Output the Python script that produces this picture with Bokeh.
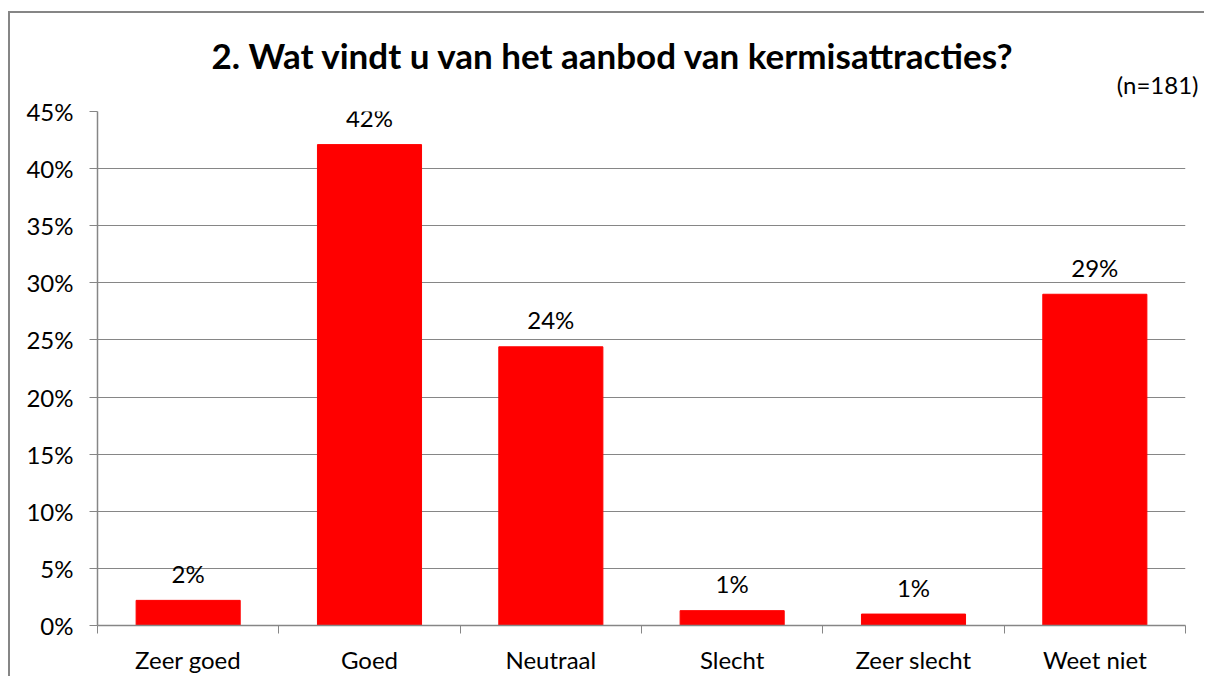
from bokeh.plotting import figure
from bokeh.models import (ColumnDataSource, Range1d, FactorRange, LinearAxis,
                          CategoricalAxis, FixedTicker, NumeralTickFormatter, LabelSet, Title)
from bokeh.core.properties import value
from bokeh.embed import file_html
from bokeh.resources import INLINE

# ---- data ----
categories = ["Zeer goed", "Goed", "Neutraal", "Slecht", "Zeer slecht", "Weet niet"]
percent_values = [2.2, 42.1, 24.4, 1.3, 1.0, 29.0]
value_labels = ["2%", "42%", "24%", "1%", "1%", "29%"]
y_ticks = [0.0, 0.05, 0.10, 0.15, 0.20, 0.25, 0.30, 0.35, 0.40, 0.45]
title_text = "2. Wat vindt u van het aanbod van kermisattracties?"
n_text = "(n=181)"

FONT = "Lato"
GRAY = "#868686"
BAR = "#FF0000"
FS = "24px"

source = ColumnDataSource(dict(cat=categories,
                               share=[v / 100 for v in percent_values],
                               lab=value_labels))

p = figure(width=1196, height=665, output_backend="svg", toolbar_location=None,
           x_range=FactorRange(*categories, range_padding=0),
           y_range=Range1d(0, y_ticks[-1]),
           x_axis_location=None,
           min_border_left=87, min_border_right=21, min_border_top=98, min_border_bottom=53,
           styles={"border-left": "2px solid " + GRAY, "border-top": "2px solid " + GRAY,
                   "border-right": "none", "border-bottom": "none",
                   "margin-top": "11px", "margin-left": "8px"})
p.outline_line_color = None
p.background_fill_color = "white"
p.border_fill_color = "white"

# bars
p.vbar(x="cat", top="share", width=0.574, source=source, fill_color=BAR, line_color=BAR)

# y axis
yax = p.yaxis[0]
yax.ticker = FixedTicker(ticks=y_ticks)
yax.formatter = NumeralTickFormatter(format="0%")
yax.axis_line_color = GRAY
yax.axis_line_width = 1.5
yax.major_tick_line_color = GRAY
yax.major_tick_in = 0
yax.major_tick_out = 8
yax.minor_tick_line_color = None
yax.major_label_text_font = FONT
yax.major_label_text_font_size = FS
yax.major_label_text_color = "black"
yax.major_label_standoff = 16

p.ygrid.grid_line_color = GRAY
p.ygrid.grid_line_width = 1.2
p.ygrid.ticker = FixedTicker(ticks=y_ticks)
p.xgrid.grid_line_color = None

# x axis: tick marks at category edges (synthetic coordinates of the factor range)
edges = list(range(len(categories) + 1))
edge_axis = LinearAxis(ticker=FixedTicker(ticks=edges),
                       major_label_overrides={e: "" for e in edges},
                       major_label_text_font_size="1px", major_label_standoff=0,
                       axis_line_color=GRAY, axis_line_width=1.5,
                       major_tick_line_color=GRAY, major_tick_in=0, major_tick_out=8,
                       minor_tick_line_color=None)
cat_axis = CategoricalAxis(axis_line_color=None, major_tick_line_color=None,
                           major_tick_in=0, major_tick_out=0,
                           major_label_text_font=FONT, major_label_text_font_size=FS,
                           major_label_text_color="black", major_label_standoff=11)
p.add_layout(edge_axis, "below")
p.add_layout(cat_axis, "below")

# value labels above bars
labels = LabelSet(x="cat", y="share", text="lab", source=source,
                  text_align="center", text_baseline="middle", y_offset=27,
                  text_font=value(FONT), text_font_size=value(FS), text_color="black")
p.add_layout(labels)

# sample size (closest to the plot) and main title above it
p.add_layout(Title(text=n_text, align="right", offset=-13, standoff=26,
                   text_font=FONT, text_font_size=FS, text_font_style="normal",
                   text_color="black"), "above")
p.add_layout(Title(text=title_text, align="left", offset=114, standoff=-43,
                   text_font=FONT, text_font_size="35px", text_font_style="bold",
                   text_color="black"), "above")

open("out.html", "w").write(file_html(p, INLINE))
